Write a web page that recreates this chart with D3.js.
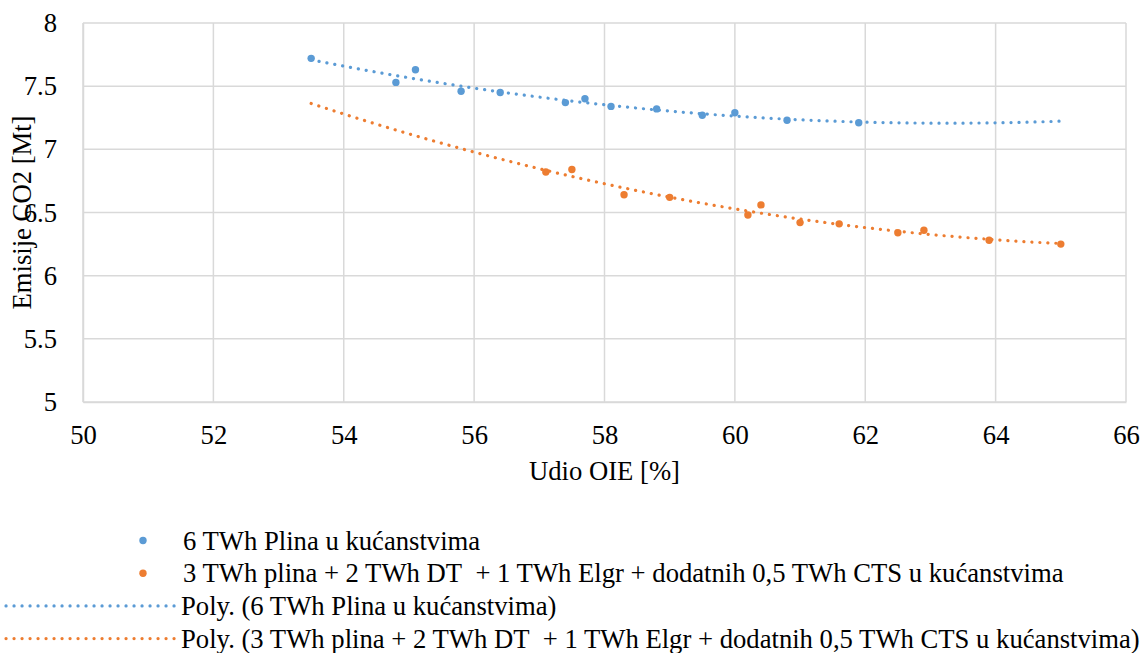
<!DOCTYPE html>
<html>
<head>
<meta charset="utf-8">
<script src="https://cdn.jsdelivr.net/npm/d3@7"></script>
</head>
<body style="margin:0">
<svg id="chart" width="1146" height="653" font-family="Liberation Serif, Tinos, Times New Roman, serif"></svg>
<script>
// ---- Data ----
const seriesNames = [
  "6 TWh Plina u kućanstvima",
  "3 TWh plina + 2 TWh DT\u00A0 + 1 TWh Elgr + dodatnih 0,5 TWh CTS u kućanstvima"
];
const blueX = [53.5, 54.8, 55.1, 55.8, 56.4, 57.4, 57.7, 58.1, 58.8, 59.5, 60.0, 60.8, 61.9];
const blueY = [7.72, 7.53, 7.63, 7.46, 7.45, 7.37, 7.40, 7.34, 7.32, 7.27, 7.29, 7.23, 7.21];
const orangeX = [57.1, 57.5, 58.3, 59.0, 60.2, 60.4, 61.0, 61.6, 62.5, 62.9, 63.9, 65.0];
const orangeY = [6.82, 6.84, 6.64, 6.62, 6.48, 6.56, 6.42, 6.41, 6.34, 6.36, 6.28, 6.25];
const xTicks = [50, 52, 54, 56, 58, 60, 62, 64, 66];
const yTicks = [5, 5.5, 6, 6.5, 7, 7.5, 8];
const trendRange = [53.5, 65];
const xTitle = "Udio OIE [%]";
const yTitle = "Emisije CO2 [Mt]";

// ---- Setup ----
const FONT = "Liberation Serif, Tinos, Times New Roman, serif";
const FS = 26.67;
const colors = ["#5B9BD5", "#ED7D31"];
const svg = d3.select("#chart");
svg.append("rect").attr("width", 1146).attr("height", 653).attr("fill", "#fff");
const pL = 83, pR = 1126, pT = 23, pB = 402;
const x = d3.scaleLinear().domain([50, 66]).range([pL, pR]);
const y = d3.scaleLinear().domain([5, 8]).range([pB, pT]);

// gridlines
svg.append("g").selectAll("line").data(xTicks).join("line")
  .attr("x1", d => x(d)).attr("x2", d => x(d)).attr("y1", pT).attr("y2", pB)
  .attr("stroke", "#D9D9D9").attr("stroke-width", 1.5);
svg.append("g").selectAll("line").data(yTicks).join("line")
  .attr("x1", pL).attr("x2", pR).attr("y1", d => y(d)).attr("y2", d => y(d))
  .attr("stroke", "#D9D9D9").attr("stroke-width", 1.5);

// axes (labels only)
const xAxis = svg.append("g").attr("transform", `translate(0,${pB})`)
  .call(d3.axisBottom(x).tickValues(xTicks).tickSize(0).tickPadding(23).tickFormat(d3.format("d")));
const yAxis = svg.append("g").attr("transform", `translate(${pL},0)`)
  .call(d3.axisLeft(y).tickValues(yTicks).tickSize(0).tickPadding(26).tickFormat(d => String(d)));
[xAxis, yAxis].forEach(a => {
  a.attr("font-family", FONT).attr("font-size", FS);
  a.select(".domain").attr("stroke", "#D9D9D9").attr("stroke-width", 1.5);
  a.selectAll("text").attr("font-family", FONT).attr("font-size", FS).attr("fill", "#000");
});

// polynomial (order 2) least squares trendline
function polyfit(xs, ys, order) {
  const n = order + 1;
  const A = Array.from({length: n}, () => new Array(n + 1).fill(0));
  for (let k = 0; k < xs.length; k++) {
    const xv = xs[k];
    for (let i = 0; i < n; i++) {
      for (let j = 0; j < n; j++) A[i][j] += Math.pow(xv, i + j);
      A[i][n] += ys[k] * Math.pow(xv, i);
    }
  }
  for (let i = 0; i < n; i++) {
    let p = i;
    for (let r = i + 1; r < n; r++) if (Math.abs(A[r][i]) > Math.abs(A[p][i])) p = r;
    [A[i], A[p]] = [A[p], A[i]];
    for (let r = 0; r < n; r++) {
      if (r === i) continue;
      const f = A[r][i] / A[i][i];
      for (let c = i; c <= n; c++) A[r][c] -= f * A[i][c];
    }
  }
  return A.map((row, i) => row[n] / row[i]);
}
const x0 = 60;
function trend(xs, ys) {
  const c = polyfit(xs.map(v => v - x0), ys, 2);
  return d3.range(0, 101).map(i => {
    const xv = trendRange[0] + (trendRange[1] - trendRange[0]) * i / 100;
    const t = xv - x0;
    return [xv, c[0] + c[1] * t + c[2] * t * t];
  });
}
const line = d3.line().x(d => x(d[0])).y(d => y(d[1]));
const trends = [trend(blueX, blueY), trend(orangeX, orangeY)];
trends.forEach((t, i) => {
  svg.append("path").attr("d", line(t)).attr("fill", "none")
    .attr("stroke", colors[i]).attr("stroke-width", 3.2)
    .attr("stroke-linecap", "round").attr("stroke-dasharray", "0.1 7.9");
});

// points
const sets = [[blueX, blueY], [orangeX, orangeY]];
sets.forEach(([xs, ys], i) => {
  svg.append("g").selectAll("circle").data(xs.map((v, k) => [v, ys[k]])).join("circle")
    .attr("cx", d => x(d[0])).attr("cy", d => y(d[1])).attr("r", 3.7)
    .attr("fill", colors[i]);
});

// titles
function txt(sel) {
  return sel.attr("font-family", FONT).attr("font-size", FS).attr("fill", "#000");
}
txt(svg.append("text")).attr("x", (pL + pR) / 2).attr("y", 480)
  .attr("text-anchor", "middle").text(xTitle);
txt(svg.append("text")).attr("transform", `translate(31,${(pT + pB) / 2}) rotate(-90)`)
  .attr("text-anchor", "middle").text(yTitle);

// legend
const legendRows = [
  {type: "dot", color: colors[0], label: seriesNames[0]},
  {type: "dot", color: colors[1], label: seriesNames[1]},
  {type: "line", color: colors[0], label: "Poly. (" + seriesNames[0] + ")"},
  {type: "line", color: colors[1], label: "Poly. (" + seriesNames[1] + ")"}
];
const lg = svg.append("g");
legendRows.forEach((r, i) => {
  const cy = 540.5 + i * 32.7;
  if (r.type === "dot") {
    lg.append("circle").attr("cx", 143).attr("cy", cy).attr("r", 3.7).attr("fill", r.color);
  } else {
    lg.append("line").attr("x1", 6).attr("x2", 178).attr("y1", cy).attr("y2", cy)
      .attr("stroke", r.color).attr("stroke-width", 3.2)
      .attr("stroke-linecap", "round").attr("stroke-dasharray", "0.1 7.9");
  }
  txt(lg.append("text")).attr("x", r.type === "dot" ? 183 : 181).attr("y", cy + 9)
    .text(r.label);
});
</script>
</body>
</html>
